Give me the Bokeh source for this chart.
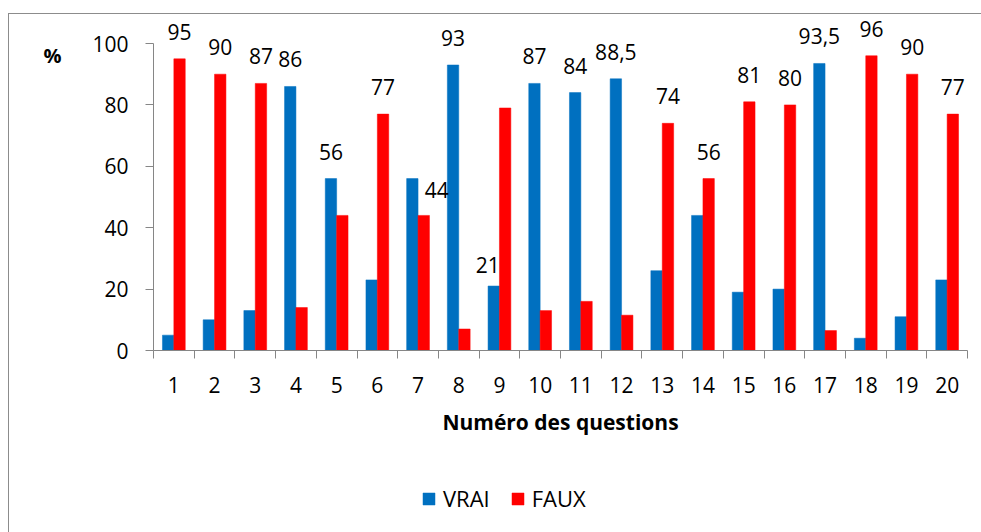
from bokeh.plotting import figure
from bokeh.models import (ColumnDataSource, FixedTicker, Legend, LegendItem, Label,
                          Range1d, InlineStyleSheet)
from bokeh.transform import dodge
from bokeh.core.properties import value
from bokeh.embed import file_html
from bokeh.resources import INLINE

# ---- data ----
questions = list(range(1, 21))
vrai = [5, 10, 13, 86, 56, 23, 56, 93, 21, 87, 84, 88.5, 26, 44, 19, 20, 93.5, 4, 11, 23]
faux = [95, 90, 87, 14, 44, 77, 44, 7, 79, 13, 16, 11.5, 74, 56, 81, 80, 6.5, 96, 90, 77]
y_ticks = [0, 20, 40, 60, 80, 100]
labelled_series = ["FAUX", "FAUX", "FAUX", "VRAI", "VRAI", "FAUX", "FAUX", "VRAI", "VRAI", "VRAI",
                   "VRAI", "VRAI", "FAUX", "FAUX", "FAUX", "FAUX", "VRAI", "FAUX", "FAUX", "FAUX"]

FONT = "Open Sans"
BLUE = "#0070C0"
RED = "#FF0000"
AXIS = "#868686"
OFF = 0.14
BW = 0.28

# ---- layout (pixels) ----
W, H = 981, 532
PL, PR, PT, PB = 153, 967, 43, 350   # plot area edges on the canvas
x_lo, x_hi = questions[0] - 0.5, questions[-1] + 0.5
y_lo, y_hi = y_ticks[0], y_ticks[-1]
ppx = (PR - PL) / (x_hi - x_lo)
ppy = (PB - PT) / (y_hi - y_lo)
x_range = Range1d(x_lo - PL / ppx, x_hi + (W - PR) / ppx)
y_range = Range1d(y_lo - (H - PB) / ppy, y_hi + PT / ppy)


def fmt(v):
    return str(int(v)) if float(v).is_integer() else str(v).replace(".", ",")


src = ColumnDataSource(dict(q=questions, vrai=vrai, faux=faux))

lx, ly, lt = [], [], []
for q, s, v1, v2 in zip(questions, labelled_series, vrai, faux):
    v = v1 if s == "VRAI" else v2
    lx.append(q + (-OFF if s == "VRAI" else OFF))
    ly.append(v)
    lt.append(fmt(v))
dx = [0] * 20
dy = [-27] * 20
dx[6] = 13; dy[6] = -25
dx[8] = -6; dy[8] = -21
lab_src = ColumnDataSource(dict(x=lx, y=ly, t=lt, dx=dx, dy=dy))

frame_css = InlineStyleSheet(css="""
:host::after {
  content: "";
  position: absolute;
  left: 8px; top: 13px; width: 2000px; height: 2000px;
  border-left: 1.5px solid #8c8c8c;
  border-top: 1.5px solid #8c8c8c;
  pointer-events: none;
  z-index: 5;
}
""")

p = figure(width=W, height=H, x_range=x_range, y_range=y_range,
           output_backend="svg", toolbar_location=None,
           min_border_left=0, min_border_right=0, min_border_top=0, min_border_bottom=0)
p.stylesheets = [frame_css]
p.title.visible = False
p.outline_line_color = None
p.xgrid.visible = False
p.ygrid.visible = False

rv = p.vbar(x=dodge("q", -OFF), top="vrai", width=BW, source=src,
            fill_color=BLUE, line_color=BLUE, line_width=0.5)
rf = p.vbar(x=dodge("q", OFF), top="faux", width=BW, source=src,
            fill_color=RED, line_color=RED, line_width=0.5)

p.text(x="x", y="y", text="t", x_offset="dx", y_offset="dy", source=lab_src,
       text_font=value(FONT), text_font_size="21px", text_color="#000000",
       text_align="center", text_baseline="alphabetic")

# y axis (drawn at the plot-area edge)
ya = p.yaxis[0]
ya.fixed_location = x_lo
ya.bounds = (y_lo, y_hi)
ya.ticker = FixedTicker(ticks=y_ticks, minor_ticks=[])
ya.axis_line_color = AXIS
ya.major_tick_line_color = AXIS
ya.major_tick_out = 8
ya.major_tick_in = 0
ya.minor_tick_line_color = None
ya.major_label_text_font = FONT
ya.major_label_text_font_size = "21px"
ya.major_label_text_color = "#000000"
ya.major_label_standoff = 17

# x axis
xa = p.xaxis[0]
xa.fixed_location = y_lo
xa.bounds = (x_lo, x_hi)
xa.ticker = FixedTicker(ticks=questions,
                        minor_ticks=[q - 0.5 for q in questions] + [questions[-1] + 0.5])
xa.axis_line_color = AXIS
xa.major_tick_line_color = None
xa.minor_tick_line_color = AXIS
xa.minor_tick_out = 8
xa.minor_tick_in = 0
xa.major_label_text_font = FONT
xa.major_label_text_font_size = "21px"
xa.major_label_text_color = "#000000"
xa.major_label_standoff = 18
xa.axis_label = "Numéro des questions"
xa.axis_label_text_font = FONT
xa.axis_label_text_font_size = "21px"
xa.axis_label_text_font_style = "bold"
xa.axis_label_text_color = "#000000"
xa.axis_label_standoff = 12

pct = Label(x=x_lo, y=y_hi, x_offset=-101, y_offset=-12, text="%",
            text_font=FONT, text_font_size="20px", text_font_style="bold",
            text_align="center", text_baseline="middle", text_color="#000000")
p.add_layout(pct)

legend = Legend(items=[LegendItem(label="VRAI", renderers=[rv]),
                       LegendItem(label="FAUX", renderers=[rf])],
                orientation="horizontal", location=(421, 19),
                glyph_width=15, glyph_height=15, label_standoff=7, spacing=20,
                padding=0, margin=0, border_line_color=None, background_fill_alpha=0,
                label_text_font=FONT, label_text_font_size="22px", label_text_color="#000000")
p.add_layout(legend, "center")

open("out.html", "w").write(file_html(p, INLINE))
